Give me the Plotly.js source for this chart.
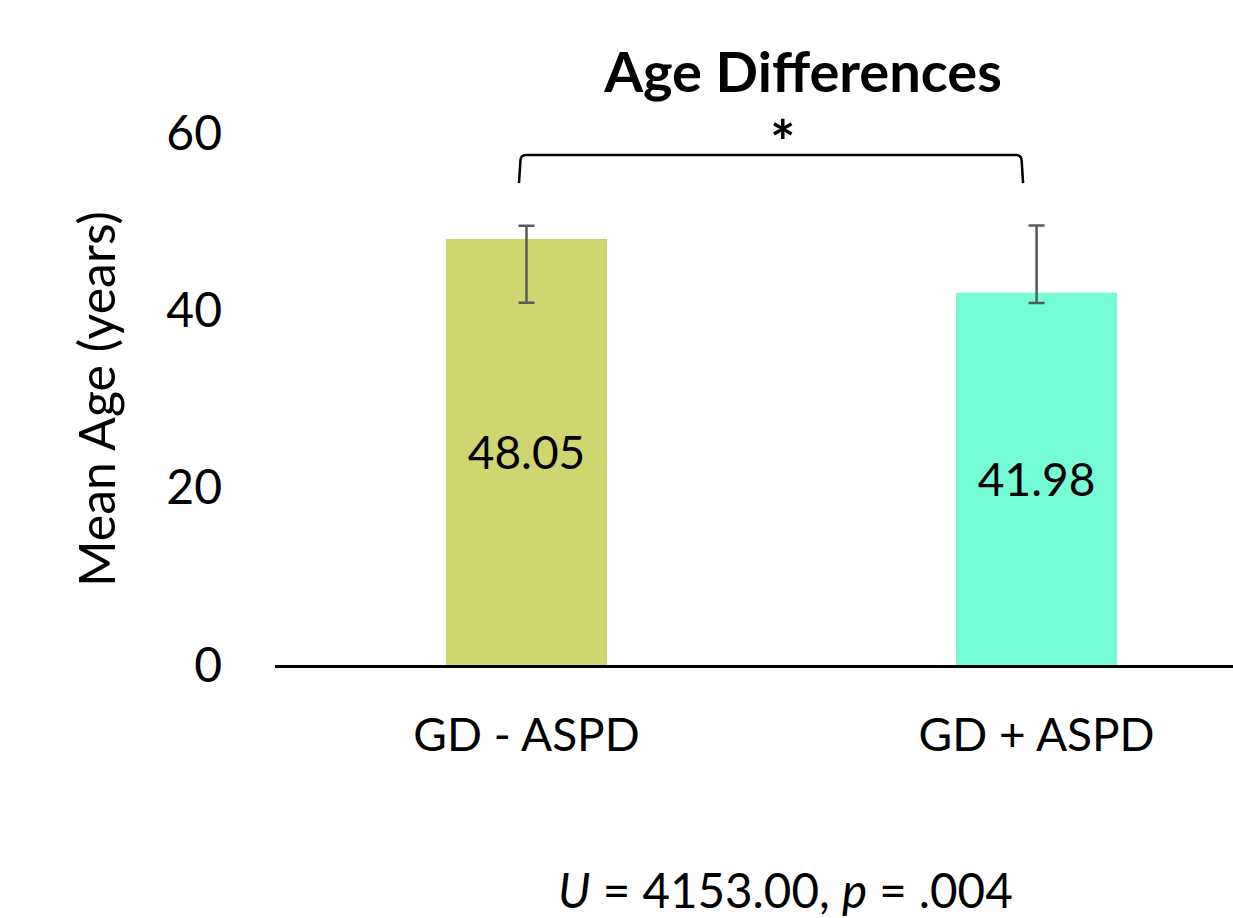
<!DOCTYPE html>
<html>
<head>
<meta charset="utf-8">
<script src="https://cdn.plot.ly/plotly-3.0.1.min.js"></script>
<style>html,body{margin:0;padding:0;background:#fff;}#chart{width:1233px;height:918px;}</style>
</head>
<body>
<div id="chart"></div>
<script>
const groups = ["GD - ASPD", "GD + ASPD"];
const meanAge = [48.05, 41.98];
const errPlus = [1.5, 7.6];
const errMinus = [7.2, 1.15];
const barColors = ["#CFD66F", "#75FCD6"];
const yTicks = [0, 20, 40, 60];
const statText = "<i>U</i> = 4153.00, <i>p</i> = .004";

const FONT = "Lato, 'Open Sans', sans-serif";

const trace = {
  type: "bar",
  x: groups,
  y: meanAge,
  width: 0.316,
  marker: {color: barColors},
  text: meanAge.map(v => v.toFixed(2)),
  textposition: "inside",
  insidetextanchor: "middle",
  textfont: {family: FONT, size: 46, color: "#000"},
  error_y: {
    type: "data", symmetric: false,
    array: errPlus, arrayminus: errMinus,
    color: "#595959", thickness: 2.5, width: 8
  },
  hoverinfo: "x+y"
};

const layout = {
  width: 1233, height: 918,
  margin: {l: 275, r: 0, t: 133, b: 253},
  paper_bgcolor: "#fff", plot_bgcolor: "#fff",
  font: {family: FONT, color: "#000"},
  showlegend: false,
  title: {
    text: "<b>Age Differences</b>",
    font: {family: FONT, size: 56, color: "#000"},
    xref: "container", yref: "container",
    x: 803/1233, y: 1 - 72/918, xanchor: "center", yanchor: "middle"
  },
  xaxis: {
    type: "category",
    range: [-0.493, 1.385],
    showline: true, linecolor: "#000", linewidth: 3,
    ticks: "", showgrid: false, zeroline: false,
    tickfont: {family: FONT, size: 46, color: "#000"},
    ticklabelstandoff: 28,
    fixedrange: true
  },
  yaxis: {
    range: [0, 60],
    tickmode: "array", tickvals: yTicks, ticktext: yTicks.map(String),
    showline: false, showgrid: false, zeroline: false, ticks: "",
    tickfont: {family: FONT, size: 48, color: "#000"},
    ticklabelstandoff: 52,
    title: {text: "Mean Age (years)", font: {family: FONT, size: 50, color: "#000"}, standoff: 34},
    fixedrange: true
  },
  shapes: [{
    type: "path", xref: "x", yref: "y",
    path: "M -0.0147,54.34 L -0.0118,56.94 Q -0.0108,57.51 -0.001,57.51 L 0.9598,57.51 Q 0.9696,57.51 0.9706,56.94 L 0.9735,54.34",
    line: {color: "#000", width: 2.5}
  }],
  annotations: [
    {text: "<b>*</b>", xref: "x", yref: "paper", x: 0.503, y: (665-141)/532, showarrow: false,
     font: {family: FONT, size: 60, color: "#000"}, xanchor: "center", yanchor: "middle"},
    {text: statText, xref: "paper", yref: "paper", x: (785-275)/958, y: (665-889)/532,
     showarrow: false, font: {family: FONT, size: 47.5, color: "#000"}, xanchor: "center", yanchor: "middle"}
  ]
};

Plotly.newPlot("chart", [trace], layout, {displayModeBar: false, staticPlot: true});
</script>
</body>
</html>
